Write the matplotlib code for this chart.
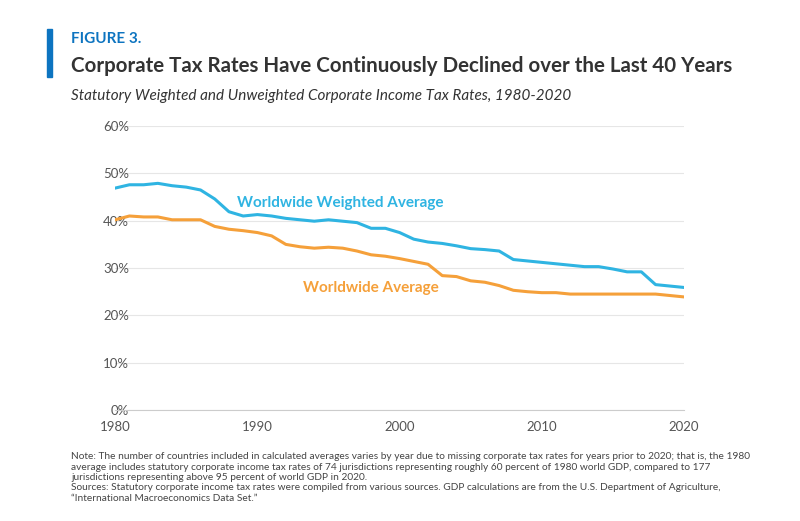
import matplotlib.pyplot as plt

plt.rcParams['font.family'] = ['Lato', 'DejaVu Sans']

years = list(range(1980, 2021))
weighted = [46.9, 47.6, 47.6, 47.9, 47.4, 47.1, 46.5, 44.6, 41.9, 41.0,
            41.3, 41.0, 40.5, 40.2, 39.9, 40.2, 39.9, 39.6, 38.4, 38.4,
            37.5, 36.1, 35.5, 35.2, 34.7, 34.1, 33.9, 33.6, 31.8, 31.5,
            31.2, 30.9, 30.6, 30.3, 30.3, 29.8, 29.2, 29.2, 26.5, 26.2, 25.9]
unweighted = [40.2, 41.0, 40.8, 40.8, 40.2, 40.2, 40.2, 38.8, 38.2, 37.9,
              37.5, 36.8, 35.0, 34.5, 34.2, 34.4, 34.2, 33.6, 32.8, 32.5,
              32.0, 31.4, 30.8, 28.4, 28.2, 27.3, 27.0, 26.3, 25.3, 25.0,
              24.8, 24.8, 24.5, 24.5, 24.5, 24.5, 24.5, 24.5, 24.5, 24.2, 23.9]

blue = '#2fb4e2'
orange = '#f5a03a'

fig = plt.figure(figsize=(8, 5.21), dpi=100)
ax = fig.add_axes([0.144, 0.213, 0.711, 0.545])

ax.plot(years, weighted, color=blue, lw=2.2)
ax.plot(years, unweighted, color=orange, lw=2.2)
ax.text(1988.6, 43.8, 'Worldwide Weighted Average', color=blue, fontsize=11,
        fontweight='bold', va='center')
ax.text(1993.2, 25.8, 'Worldwide Average', color=orange, fontsize=11,
        fontweight='bold', va='center')

ax.set_xlim(1980, 2020)
ax.set_ylim(0, 60)
ax.set_xticks([1980, 1990, 2000, 2010, 2020])
ax.set_yticks(range(0, 61, 10))
ax.set_yticklabels([f'{v}%' for v in range(0, 61, 10)])
ax.grid(axis='y', color='#e6e6e6', lw=0.8)
ax.set_axisbelow(True)
for s in ['top', 'right', 'left']:
    ax.spines[s].set_visible(False)
ax.spines['bottom'].set_color('#cccccc')
ax.tick_params(length=0, colors='#555555', labelsize=9.5, pad=8)
ax.tick_params(axis='y', pad=-10)
for lab in ax.get_yticklabels():
    lab.set_horizontalalignment('right')

fig.patches.append(plt.Rectangle((0.059, 0.852), 0.006, 0.092, transform=fig.transFigure,
                                 color='#0d74c0'))
fig.text(0.089, 0.918, 'FIGURE 3.', color='#0d74c0', fontsize=11, fontweight='bold')
fig.text(0.089, 0.862, 'Corporate Tax Rates Have Continuously Declined over the Last 40 Years',
         color='#333333', fontsize=14.8, fontweight='bold')
fig.text(0.089, 0.808, 'Statutory Weighted and Unweighted Corporate Income Tax Rates, 1980-2020',
         color='#333333', fontsize=11, style='italic')

note = ("Note: The number of countries included in calculated averages varies by year due to missing corporate tax rates for years prior to 2020; that is, the 1980\n"
        "average includes statutory corporate income tax rates of 74 jurisdictions representing roughly 60 percent of 1980 world GDP, compared to 177\n"
        "jurisdictions representing above 95 percent of world GDP in 2020.\n"
        "Sources: Statutory corporate income tax rates were compiled from various sources. GDP calculations are from the U.S. Department of Agriculture,\n"
        "\u201cInternational Macroeconomics Data Set.\u201d")
fig.text(0.089, 0.035, note, color='#444444', fontsize=7.3, linespacing=1.2, va='bottom')

fig.savefig('out.png', dpi=100)
